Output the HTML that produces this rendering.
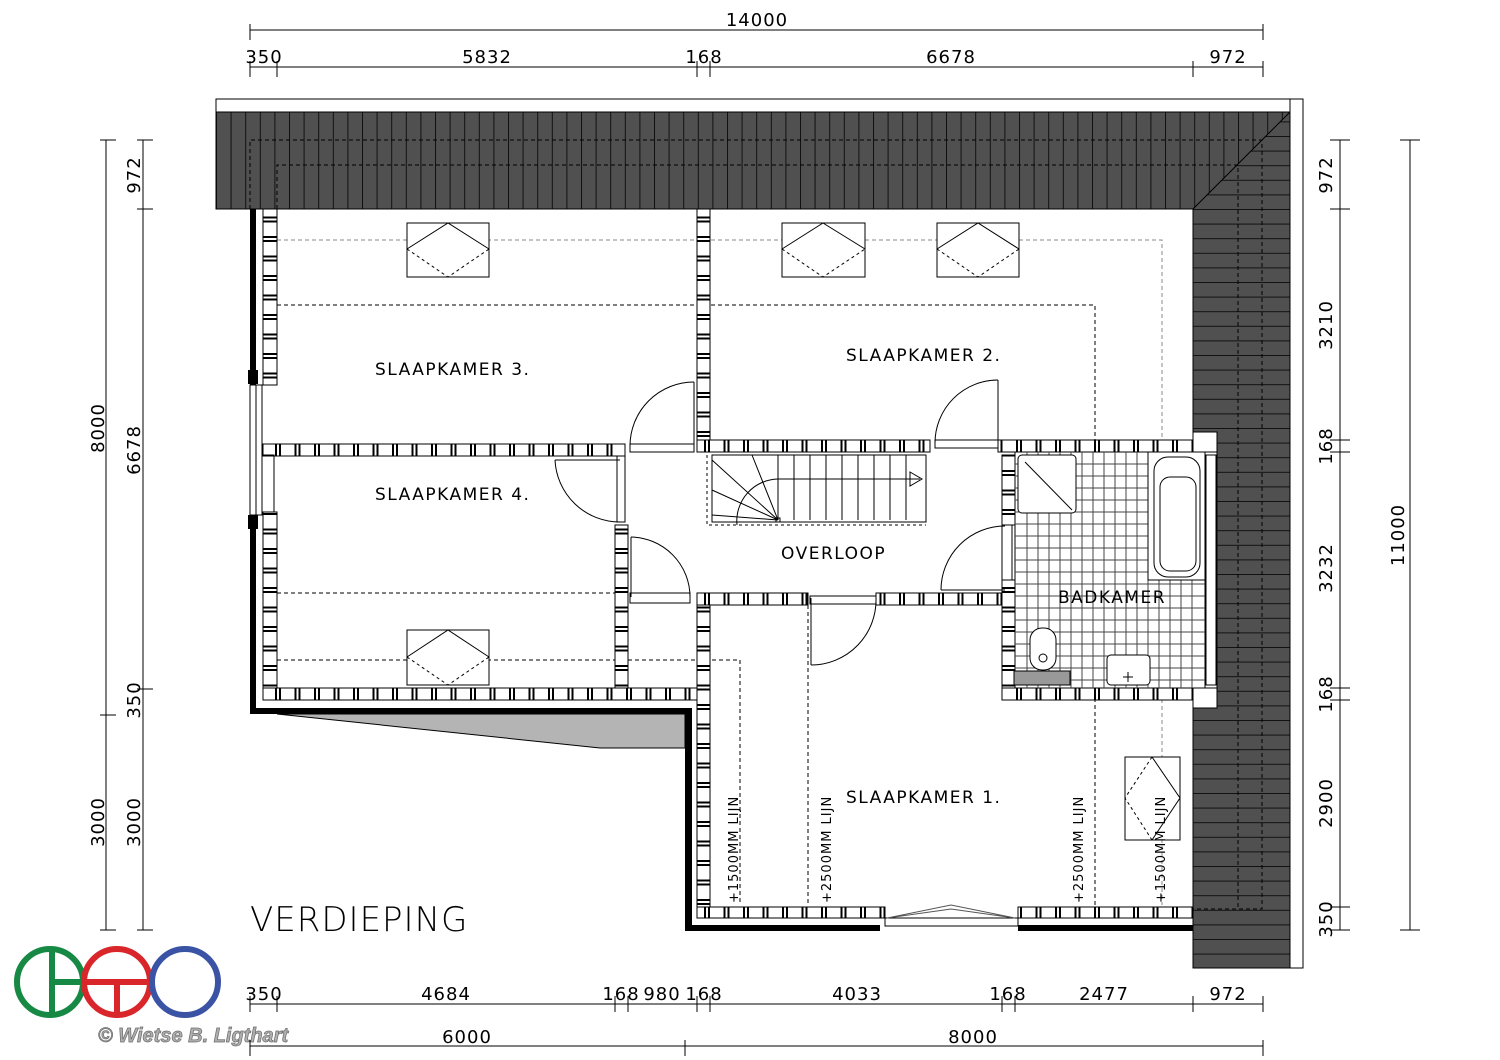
<!DOCTYPE html>
<html><head><meta charset="utf-8"><style>
html,body{margin:0;padding:0;background:#fff}
svg{display:block}
text{font-family:"DejaVu Sans","Liberation Sans",sans-serif}
</style></head><body>
<svg width="1500" height="1060" viewBox="0 0 1500 1060" xmlns="http://www.w3.org/2000/svg">
<defs>
<pattern id="roofV" x="216" y="0" width="14.6" height="20" patternUnits="userSpaceOnUse">
<rect width="14.6" height="20" fill="#505050"/><line x1="0.5" y1="0" x2="0.5" y2="20" stroke="#111" stroke-width="1"/></pattern>
<pattern id="roofH" x="0" y="209" width="20" height="14.6" patternUnits="userSpaceOnUse">
<rect width="20" height="14.6" fill="#505050"/><line x1="0" y1="0.5" x2="20" y2="0.5" stroke="#111" stroke-width="1"/></pattern>
<pattern id="wallH" x="0" y="0" width="19.5" height="20" patternUnits="userSpaceOnUse">
<rect width="19.5" height="20" fill="#fff"/><rect x="2" width="2" height="20" fill="#000"/><rect x="6" width="2" height="20" fill="#000"/></pattern>
<pattern id="wallV" x="0" y="0" width="20" height="19.5" patternUnits="userSpaceOnUse">
<rect width="20" height="19.5" fill="#fff"/><rect y="2" width="20" height="2" fill="#000"/><rect y="6" width="20" height="2" fill="#000"/></pattern>
</defs>

<!-- roof -->
<rect x="216" y="99" width="1087" height="13" fill="#fff" stroke="#000"/>
<rect x="1290" y="99" width="13" height="869" fill="#fff" stroke="#000"/>
<rect x="216" y="112" width="1074" height="97" fill="url(#roofV)" stroke="#000"/>
<polygon points="1290,112 1193,209 1193,968 1290,968" fill="url(#roofH)" stroke="#000"/>
<path d="M250,209 V140 H1262 V909 H1193" fill="none" stroke="#000" stroke-dasharray="4,3"/>
<path d="M277,209 V165 H1238 V909" fill="none" stroke="#000" stroke-dasharray="4,3"/>

<!-- exterior thick walls -->
<g fill="#000">
<rect x="250" y="209" width="6" height="176"/>
<rect x="248" y="370" width="10" height="14"/>
<rect x="248" y="515" width="10" height="14"/>
<rect x="250" y="515" width="6" height="199"/>
<rect x="250" y="708" width="442" height="6"/>
<rect x="685" y="708" width="7" height="223"/>
<rect x="685" y="925" width="195" height="6"/>
<rect x="1018" y="925" width="175" height="6"/>
</g>
<polygon points="277,714 685,714 685,748 600,748" fill="#b4b4b4" stroke="#000"/>
<rect x="250" y="385" width="12" height="130" fill="#fff" stroke="#000"/>
<line x1="256" y1="385" x2="256" y2="515" stroke="#000"/>

<!-- dashed slope lines -->
<g fill="none" stroke="#888" stroke-dasharray="4,3">
<path d="M277,240 H1162 V905"/>
</g>
<g fill="none" stroke="#000" stroke-dasharray="4,3">
<path d="M277,305 H1095 V905"/>
<path d="M277,593 H615"/>
<path d="M277,660 H615"/>
<path d="M628,660 H740 V905"/>
<path d="M808,605 V905"/>
</g>

<!-- interior walls -->
<g stroke="#000" stroke-width="1">
<rect x="263" y="209" width="14" height="176" fill="url(#wallV)"/>
<rect x="263" y="512" width="14" height="188" fill="url(#wallV)"/>
<rect x="263" y="444" width="362" height="12" fill="url(#wallH)"/>
<rect x="697" y="209" width="13" height="231" fill="url(#wallV)"/>
<rect x="697" y="440" width="233" height="12" fill="url(#wallH)"/>
<rect x="998" y="440" width="195" height="12" fill="url(#wallH)"/>
<rect x="615" y="525" width="13" height="165" fill="url(#wallV)"/>
<rect x="1002" y="455" width="13" height="70" fill="url(#wallV)"/>
<rect x="1002" y="580" width="13" height="108" fill="url(#wallV)"/>
<rect x="697" y="593" width="111" height="12" fill="url(#wallH)"/>
<rect x="876" y="593" width="126" height="12" fill="url(#wallH)"/>
<rect x="263" y="688" width="437" height="12" fill="url(#wallH)"/>
<rect x="1002" y="688" width="191" height="12" fill="url(#wallH)"/>
<rect x="697" y="605" width="13" height="310" fill="url(#wallV)"/>
<rect x="697" y="907" width="188" height="11" fill="url(#wallH)"/>
<rect x="1018" y="907" width="175" height="11" fill="url(#wallH)"/>
<rect x="1205" y="452" width="12" height="236" fill="#fff"/>
<rect x="1193" y="432" width="24" height="20" fill="#fff"/>
<rect x="1193" y="688" width="24" height="20" fill="#fff"/>
</g>

<!-- doors -->
<g fill="none" stroke="#000" stroke-width="1">
<rect x="630" y="444" width="64" height="8"/>
<path d="M694,382 A64,64 0 0 0 630,446"/><line x1="694" y1="382" x2="694" y2="446"/>
<rect x="935" y="440" width="63" height="8"/>
<path d="M998,380 A63,63 0 0 0 935,443"/><line x1="998" y1="380" x2="998" y2="443"/>
<rect x="617" y="456" width="8" height="66"/>
<path d="M555,460 A65,65 0 0 0 620,522"/><line x1="555" y1="460" x2="620" y2="460"/>
<rect x="630" y="593" width="60" height="10"/>
<path d="M631,537 A60,60 0 0 1 690,597"/><line x1="631" y1="537" x2="631" y2="597"/>
<rect x="1002" y="525" width="10" height="55"/>
<path d="M1005,526 A64,64 0 0 0 941,590"/><line x1="941" y1="590" x2="1005" y2="590"/>
<rect x="810" y="596" width="66" height="8"/>
<path d="M876,598 A65,65 0 0 1 811,665"/><line x1="811" y1="598" x2="811" y2="665"/>
<rect x="885" y="918" width="133" height="8"/>
<path d="M887,918 L951,905 L1015,918 M887,918 L951,909 L1015,918" stroke="#555"/>
<rect x="262" y="455" width="12" height="57"/>
<rect x="1206" y="455" width="10" height="230"/>
</g>

<!-- stairs -->
<g fill="none" stroke="#000" stroke-width="1">
<rect x="712" y="455" width="214" height="67"/>
<path d="M707,455 V525 H926" stroke-dasharray="3,3"/>
<path d="M778,520 L712,460 M778,520 L752,455 M778,520 L712,490 M778,520 L712,515"/>
<path d="M737,525 A42,42 0 0 1 778,479 H920"/>
<path d="M910,472 L922,479 L910,486 Z"/>
<path d="M778,455 V520 M794,455 V520 M810,455 V520 M826,455 V520 M842,455 V520 M858,455 V520 M874,455 V520 M890,455 V520 M906,455 V520"/>
<rect x="776" y="518" width="4" height="4"/>
</g>

<!-- bathroom -->
<g fill="none" stroke="#000" stroke-width="1">
<rect x="1015" y="452" width="190" height="236" fill="#fff"/>
<path d="M1015,464 H1205 M1015,476 H1205 M1015,488 H1205 M1015,500 H1205 M1015,512 H1205 M1015,524 H1205 M1015,536 H1205 M1015,548 H1205 M1015,560 H1205 M1015,572 H1205 M1015,584 H1205 M1015,596 H1205 M1015,608 H1205 M1015,620 H1205 M1015,632 H1205 M1015,644 H1205 M1015,656 H1205 M1015,668 H1205 M1015,680 H1205" stroke="#444"/>
<path d="M1027,452 V688 M1038,452 V688 M1049,452 V688 M1060,452 V688 M1071,452 V688 M1082,452 V688 M1093,452 V688 M1104,452 V688 M1115,452 V688 M1126,452 V688 M1137,452 V688 M1148,452 V688 M1159,452 V688 M1170,452 V688 M1181,452 V688 M1192,452 V688" stroke="#444"/>
<rect x="1018" y="455" width="58" height="58" rx="4" fill="#fff"/>
<line x1="1025" y1="462" x2="1072" y2="510"/>
<rect x="1148" y="452" width="57" height="128" fill="#fff"/>
<rect x="1154" y="457" width="46" height="120" rx="14"/>
<rect x="1160" y="477" width="36" height="94" rx="10"/>
<rect x="1030" y="628" width="26" height="42" rx="12" fill="#fff"/>
<circle cx="1043" cy="658" r="4"/>
<rect x="1014" y="671" width="56" height="14" fill="#999"/>
<rect x="1107" y="655" width="43" height="30" rx="4" fill="#fff"/>
<path d="M1128,672 V682 M1123,677 H1133"/>
</g>

<!-- skylights -->
<g fill="#fff" stroke="#000" stroke-width="1">
<rect x="407" y="223" width="82" height="54"/><rect x="782" y="223" width="83" height="54"/><rect x="937" y="223" width="82" height="54"/><rect x="407" y="630" width="82" height="55"/><rect x="1125" y="757" width="55" height="83"/>
</g>
<g fill="none" stroke="#000">
<path d="M407,249 L448,223 L489,249 M823,223 L782,249 M823,223 L865,249 M937,249 L978,223 L1019,249 M407,657 L448,630 L489,657 M1152,757 L1180,798 L1152,840"/>
</g>
<g fill="none" stroke="#000" stroke-dasharray="3,3">
<path d="M407,249 L448,277 L489,249 M782,249 L823,277 L865,249 M937,249 L978,277 L1019,249 M407,657 L448,685 L489,657 M1152,757 L1125,798 L1152,840"/>
</g>

<!-- room labels -->
<g font-size="17" fill="#000" letter-spacing="1.5">
<text x="375" y="375">SLAAPKAMER 3.</text>
<text x="846" y="361">SLAAPKAMER 2.</text>
<text x="375" y="500">SLAAPKAMER 4.</text>
<text x="781" y="559">OVERLOOP</text>
<text x="1058" y="603">BADKAMER</text>
<text x="846" y="803">SLAAPKAMER 1.</text>
</g>
<g font-size="13" fill="#000" letter-spacing="1">
<text transform="translate(738,903) rotate(-90)">+1500MM LIJN</text>
<text transform="translate(831,903) rotate(-90)">+2500MM LIJN</text>
<text transform="translate(1083,903) rotate(-90)">+2500MM LIJN</text>
<text transform="translate(1165,903) rotate(-90)">+1500MM LIJN</text>
</g>
<text x="250" y="931" font-size="34" font-weight="200" fill="#000" letter-spacing="1" style="font-family:'DejaVu Sans ExtraLight','DejaVu Sans',sans-serif">VERDIEPING</text>

<!-- dimensions -->
<g stroke="#000" stroke-width="1" fill="none">
<path d="M250,30 H1263 M250,24 V40 M1263,24 V40"/>
<path d="M250,67 H1263 M250,61 V77 M277,61 V77 M697,61 V77 M710,61 V77 M1193,61 V77 M1263,61 V77"/>
<path d="M106,140 V930 M100,140 H116 M100,715 H116 M100,930 H116"/>
<path d="M143,140 V930 M137,140 H153 M137,209 H153 M137,689 H153 M137,930 H153"/>
<path d="M1340,140 V930 M1330,140 H1350 M1330,209 H1350 M1330,440 H1350 M1330,452 H1350 M1330,688 H1350 M1330,700 H1350 M1330,907 H1350 M1330,930 H1350"/>
<path d="M1410,140 V930 M1400,140 H1420 M1400,930 H1420"/>
<path d="M250,1004 H1263 M250,996 V1012 M277,996 V1012 M615,996 V1012 M628,996 V1012 M697,996 V1012 M710,996 V1012 M1002,996 V1012 M1015,996 V1012 M1193,996 V1012 M1263,996 V1012"/>
<path d="M250,1046 H1263 M250,1040 V1056 M685,1040 V1056 M1263,1040 V1056"/>
</g>
<g font-size="18" fill="#000" text-anchor="middle" letter-spacing="1">
<text x="757" y="26">14000</text>
<text x="264" y="63">350</text><text x="487" y="63">5832</text><text x="704" y="63">168</text><text x="951" y="63">6678</text><text x="1228" y="63">972</text>
<text x="264" y="1000">350</text><text x="446" y="1000">4684</text><text x="621" y="1000">168</text><text x="662" y="1000">980</text><text x="704" y="1000">168</text><text x="857" y="1000">4033</text><text x="1008" y="1000">168</text><text x="1104" y="1000">2477</text><text x="1228" y="1000">972</text>
<text x="467" y="1043">6000</text><text x="973" y="1043">8000</text>
<text transform="translate(104,428) rotate(-90)">8000</text>
<text transform="translate(104,822) rotate(-90)">3000</text>
<text transform="translate(140,175) rotate(-90)">972</text>
<text transform="translate(140,450) rotate(-90)">6678</text>
<text transform="translate(140,700) rotate(-90)">350</text>
<text transform="translate(140,822) rotate(-90)">3000</text>
<text transform="translate(1332,175) rotate(-90)">972</text>
<text transform="translate(1332,325) rotate(-90)">3210</text>
<text transform="translate(1332,446) rotate(-90)">168</text>
<text transform="translate(1332,568) rotate(-90)">3232</text>
<text transform="translate(1332,694) rotate(-90)">168</text>
<text transform="translate(1332,803) rotate(-90)">2900</text>
<text transform="translate(1332,919) rotate(-90)">350</text>
<text transform="translate(1404,535) rotate(-90)">11000</text>
</g>

<!-- logo -->
<g fill="none" stroke-width="6">
<circle cx="50" cy="982" r="33" stroke="#168a45"/>
<path d="M52,949 V1015 M52,982 H83" stroke="#168a45"/>
<circle cx="117" cy="982" r="33" stroke="#d9262b"/>
<path d="M84,982 H150 M117,982 V1015" stroke="#d9262b"/>
<circle cx="185" cy="982" r="33" stroke="#3a53a4"/>
</g>
<text x="98" y="1042" font-size="20" font-style="italic" font-weight="bold" fill="#b0b0b0" stroke="#6a6a6a" stroke-width="0.7" style="font-family:'Liberation Sans',sans-serif">© Wietse B. Ligthart</text>
</svg>
</body></html>
